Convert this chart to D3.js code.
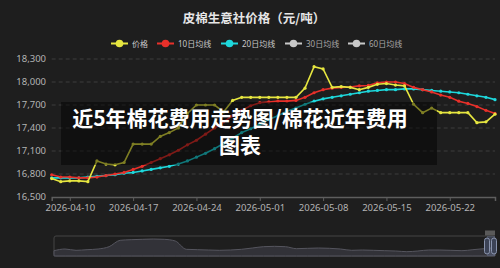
<!DOCTYPE html>
<html>
<head>
<meta charset="utf-8">
<script src="https://cdn.jsdelivr.net/npm/d3@7"></script>
<style>
  body { margin: 0; background: #1e1e1e; }
  svg { display: block; font-family: "Noto Sans", "Noto Sans CJK SC", sans-serif; }
</style>
</head>
<body>
<div id="chart"></div>
<script>
const dates = ['2026-04-08','2026-04-09','2026-04-10','2026-04-11','2026-04-12','2026-04-13','2026-04-14','2026-04-15','2026-04-16','2026-04-17',
  '2026-04-18','2026-04-19','2026-04-20','2026-04-21','2026-04-22','2026-04-23','2026-04-24','2026-04-25','2026-04-26','2026-04-27',
  '2026-04-28','2026-04-29','2026-04-30','2026-05-01','2026-05-02','2026-05-03','2026-05-04','2026-05-05','2026-05-06','2026-05-07',
  '2026-05-08','2026-05-09','2026-05-10','2026-05-11','2026-05-12','2026-05-13','2026-05-14','2026-05-15','2026-05-16','2026-05-17',
  '2026-05-18','2026-05-19','2026-05-20','2026-05-21','2026-05-22','2026-05-23','2026-05-24','2026-05-25','2026-05-26','2026-05-27'];

// 价格
const price = [16740,16700,16710,16710,16700,16970,16930,16920,16950,17190,
  17190,17190,17290,17340,17400,17590,17700,17700,17700,17610,
  17760,17800,17800,17800,17800,17800,17800,17800,17920,18200,
  18170,17930,17940,17930,17900,17930,17970,17980,17960,17950,
  17710,17600,17660,17600,17600,17600,17600,17470,17480,17580];

// 10日均线
const ma10 = [16790,16760,16760,16750,16750,16760,16780,16800,16820,16860,
  16900,16950,17000,17050,17110,17180,17240,17320,17400,17480,
  17560,17630,17690,17730,17740,17750,17750,17760,17800,17860,
  17900,17920,17930,17935,17950,17955,17990,18000,18000,17980,
  17930,17900,17870,17830,17800,17750,17720,17680,17630,17590];

// 20日均线
const ma20 = [16750,16750,16750,16750,16760,16770,16780,16790,16810,16820,
  16840,16860,16880,16900,16930,16970,17020,17070,17130,17200,
  17270,17340,17390,17450,17510,17560,17620,17660,17710,17750,
  17780,17800,17820,17840,17860,17880,17890,17900,17900,17910,
  17910,17900,17890,17880,17870,17860,17840,17820,17800,17770];

// long history shown in the slider
const historyPrice = [14830,15250,14920,15080,15250,15830,17420,17580,17670,17750,
  17670,17250,15170,15080,15000,14920,15000,15170,15500,15830,
  15920,15830,15330,15420,15500,15420,15250,14920,15000,14920,
  14830,14750,14580,14750,15000,15000,14920,14830,15080,15330,15580];

const yTicks = [16500,16800,17100,17400,17700,18000,18300];
const xTickLabels = ['2026-04-10','2026-04-17','2026-04-24','2026-05-01','2026-05-08','2026-05-15','2026-05-22'];
const legendNames = ['价格','10日均线','20日均线','30日均线','60日均线'];
const legendOn = [true, true, true, false, false];

const width = 500, height = 268;
const colors = { '价格': '#e6e640', '10日均线': '#e8302a', '20日均线': '#1ed8dc' };
const legendX = [111, 157, 221, 285, 348]; // left edge of each legend item

const parse = d3.timeParse('%Y-%m-%d');
const days = dates.map(parse);

const svg = d3.select('#chart').append('svg')
  .attr('width', width)
  .attr('height', height);

svg.append('rect').attr('width', width).attr('height', height).attr('fill', '#1e1e1e');

// title
svg.append('text')
  .attr('x', 254).attr('y', 23)
  .attr('text-anchor', 'middle')
  .attr('fill', '#e6e6e6')
  .attr('font-size', 12.5)
  .attr('font-weight', 'bold')
  .attr('font-family', '"Noto Sans CJK SC", sans-serif')
  .text('皮棉生意社价格（元/吨）');

// scales
const x = d3.scaleTime()
  .domain(d3.extent(days))
  .range([51.7, 495]);

const y = d3.scaleLinear()
  .domain([16500, 18300])
  .range([197, 59]);

// grid lines
svg.append('g').selectAll('line')
  .data(yTicks.slice(1))
  .enter().append('line')
  .attr('x1', 51.7).attr('x2', 495)
  .attr('y1', d => y(d)).attr('y2', d => y(d))
  .attr('stroke', '#3c3c3c')
  .attr('stroke-dasharray', '4,3');

// y labels
svg.append('g').selectAll('text')
  .data(yTicks)
  .enter().append('text')
  .attr('x', 46).attr('y', d => y(d) + 3.2)
  .attr('text-anchor', 'end')
  .attr('fill', '#b4b4b4')
  .attr('font-size', 9.5)
  .text(d => d3.format(',')(d));

// x axis
const xAxis = d3.axisBottom(x)
  .tickValues(xTickLabels.map(parse))
  .tickFormat(d3.timeFormat('%Y-%m-%d'))
  .tickSize(4)
  .tickPadding(3);

const gx = svg.append('g')
  .attr('transform', 'translate(0,197)')
  .call(xAxis);
gx.select('.domain').attr('stroke', '#5e5e5e').attr('stroke-width', 1.5);
gx.selectAll('.tick line').attr('stroke', '#5e5e5e');
gx.selectAll('.tick text')
  .attr('fill', '#b4b4b4')
  .attr('font-size', 9.5)
  .attr('font-family', '"Noto Sans", sans-serif');

// series
const series = [
  { name: '20日均线', values: ma20 },
  { name: '10日均线', values: ma10 },
  { name: '价格', values: price }
];

const line = d3.line()
  .x((d, i) => x(days[i]))
  .y(d => y(d));

series.forEach(s => {
  const g = svg.append('g');
  g.append('path')
    .datum(s.values)
    .attr('d', line)
    .attr('fill', 'none')
    .attr('stroke', colors[s.name])
    .attr('stroke-width', 1.6);
  g.selectAll('circle')
    .data(s.values)
    .enter().append('circle')
    .attr('cx', (d, i) => x(days[i]))
    .attr('cy', d => y(d))
    .attr('r', 1.6)
    .attr('fill', colors[s.name]);
});

// legend
const legend = svg.append('g').attr('transform', 'translate(0,43.5)');
legendNames.forEach((name, i) => {
  const item = legend.append('g').attr('transform', 'translate(' + legendX[i] + ',0)');
  const c = legendOn[i] ? colors[name] : '#c8c8c8';
  item.append('line')
    .attr('x1', 0).attr('x2', 17)
    .attr('y1', 0).attr('y2', 0)
    .attr('stroke', c).attr('stroke-width', 2);
  item.append('circle')
    .attr('cx', 8.5).attr('cy', 0).attr('r', 3.8)
    .attr('fill', c);
  item.append('text')
    .attr('x', 21).attr('y', 3)
    .attr('fill', legendOn[i] ? '#c8c8c8' : '#a8a8a8')
    .attr('font-size', 8)
    .text(name);
});

// data zoom slider
const sx = d3.scaleLinear().domain([0, historyPrice.length - 1]).range([54, 495]);
const sy = d3.scaleLinear().domain([13500, 18500]).range([256, 236]);

svg.append('rect')
  .attr('x', 54).attr('y', 236)
  .attr('width', 441).attr('height', 20)
  .attr('rx', 2)
  .attr('fill', 'none')
  .attr('stroke', '#444');

svg.append('path')
  .datum(historyPrice)
  .attr('d', d3.area()
    .x((d, i) => sx(i))
    .y0(256)
    .y1(d => sy(d))
    .curve(d3.curveMonotoneX))
  .attr('fill', '#323238')
  .attr('stroke', '#55555e')
  .attr('stroke-width', 1);

svg.append('rect')
  .attr('x', 487).attr('y', 236)
  .attr('width', 8).attr('height', 20)
  .attr('fill', 'rgba(120,135,175,0.35)');

[487, 494].forEach(hx => {
  svg.append('rect')
    .attr('x', hx - 2.5).attr('y', 238)
    .attr('width', 5).attr('height', 16)
    .attr('rx', 2.5)
    .attr('fill', '#3c4356')
    .attr('stroke', '#8a94ad')
    .attr('stroke-width', 1);
});

svg.append('rect')
  .attr('x', 485).attr('y', 230.5)
  .attr('width', 10).attr('height', 5)
  .attr('fill', '#5a5a5a');

// overlay caption
svg.append('rect')
  .attr('x', 61).attr('y', 102)
  .attr('width', 376).attr('height', 63)
  .attr('fill', 'rgba(0,0,0,0.45)');

const caption = svg.append('text')
  .attr('text-anchor', 'middle')
  .attr('fill', '#ffffff')
  .attr('font-size', 21)
  .attr('font-weight', 'bold')
  .attr('font-family', '"Noto Sans CJK SC", sans-serif');
caption.append('tspan').attr('x', 240).attr('y', 125.5).text('近5年棉花费用走势图/棉花近年费用');
caption.append('tspan').attr('x', 240).attr('y', 153).text('图表');
</script>
</body>
</html>
